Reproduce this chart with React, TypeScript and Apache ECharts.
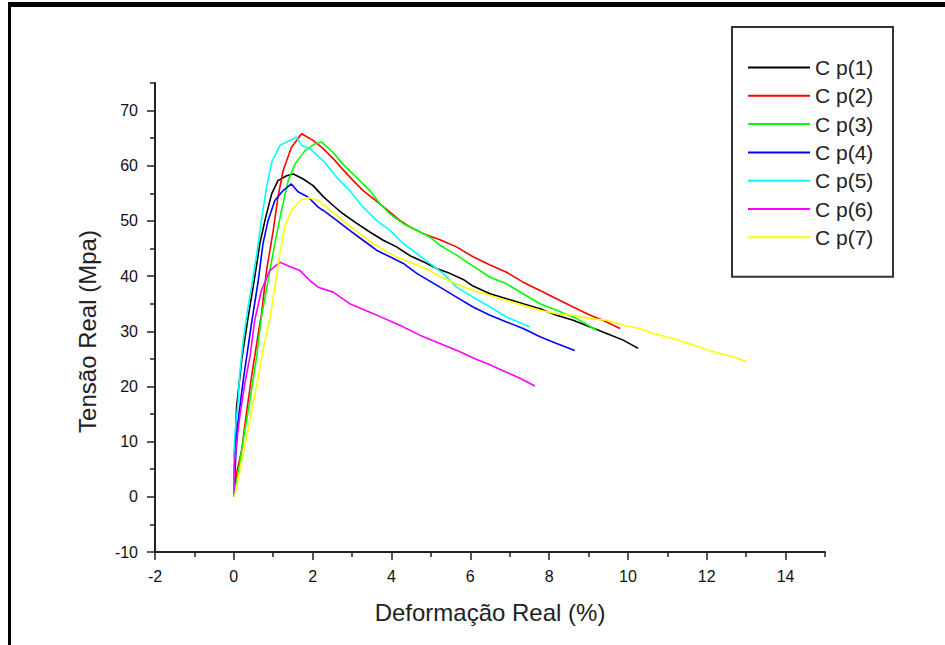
import React, { useEffect, useRef } from "react";
import * as echarts from "echarts";

const seriesNames = ["C p(1)", "C p(2)", "C p(3)", "C p(4)", "C p(5)", "C p(6)", "C p(7)"];
const seriesColors = ["#000000", "#ff0000", "#00ff00", "#0000ff", "#00ffff", "#ff00ff", "#ffff00"];

const xTickLabels = [-2, 0, 2, 4, 6, 8, 10, 12, 14];
const xMinorTicks = [-1, 1, 3, 5, 7, 9, 11, 13, 15];
const yTickLabels = [-10, 0, 10, 20, 30, 40, 50, 60, 70];
const yMinorTicks = [-5, 5, 15, 25, 35, 45, 55, 65, 75];

const cp1 = [[0,0],[0.03,8],[0.07,16.3],[0.2,24.8],[0.35,32.0],[0.53,39.8],[0.66,45.9],[0.79,50.1],[0.96,54.9],[1.12,57.3],[1.34,58.2],[1.51,58.5],[1.76,57.6],[2.01,56.4],[2.27,54.4],[2.52,52.8],[2.77,51.3],[3.11,49.6],[3.45,48.0],[3.79,46.5],[4.13,45.3],[4.47,43.7],[4.81,42.6],[5.14,41.4],[5.48,40.5],[5.82,39.4],[6.07,38.2],[6.5,36.8],[6.92,35.9],[7.34,35.0],[7.77,34.1],[8.19,32.9],[8.61,32.0],[9.04,30.8],[9.46,29.6],[9.88,28.4],[10.26,26.9]];
const cp2 = [[0,0],[0.07,4.3],[0.2,8.5],[0.32,15.1],[0.45,21.8],[0.62,29.6],[0.7,33],[0.83,41.0],[1.0,48.3],[1.12,54.3],[1.25,59.1],[1.46,63.3],[1.72,65.8],[2.01,64.6],[2.27,63.1],[2.52,61.3],[2.77,59.3],[3.03,57.3],[3.28,55.5],[3.62,53.6],[3.96,51.6],[4.21,50.1],[4.47,48.9],[4.81,47.7],[5.23,46.6],[5.65,45.3],[6.07,43.5],[6.5,42.0],[6.92,40.7],[7.34,38.9],[7.77,37.4],[8.19,35.9],[8.61,34.4],[9.04,32.9],[9.37,32.0],[9.8,30.5]];
const cp3 = [[0,0],[0.11,4.3],[0.24,10.3],[0.41,17.5],[0.58,25.4],[0.7,32.6],[0.87,39.2],[1.04,45.9],[1.21,51.9],[1.38,57.3],[1.55,60.3],[1.8,62.7],[2.06,64.0],[2.23,64.3],[2.52,62.4],[2.77,60.3],[3.11,57.9],[3.45,55.5],[3.71,53.1],[3.96,51.3],[4.3,49.5],[4.64,48.3],[4.97,47.1],[5.23,45.6],[5.65,43.8],[6.07,41.8],[6.5,39.8],[6.92,38.6],[7.34,36.8],[7.77,35.0],[8.19,33.8],[8.7,32.3],[9.2,30.2]];
const cp4 = [[0,0],[0.04,6],[0.09,12.7],[0.24,21.2],[0.45,31.5],[0.62,39.2],[0.74,45.9],[0.87,50.1],[1.04,53.7],[1.25,55.5],[1.46,56.7],[1.63,55.3],[1.89,54.3],[2.14,52.5],[2.27,51.9],[2.61,50.1],[2.94,48.3],[3.28,46.5],[3.62,44.7],[3.96,43.5],[4.3,42.3],[4.64,40.5],[5.23,38.0],[5.65,36.2],[6.07,34.4],[6.5,32.9],[6.92,31.7],[7.34,30.5],[7.77,29.0],[8.19,27.8],[8.65,26.5]];
const cp5 = [[0,0],[0.0,7.9],[0.03,11.5],[0.11,17.5],[0.15,22.4],[0.24,28.4],[0.36,34.4],[0.45,38.0],[0.58,43.9],[0.7,50.1],[0.83,56.1],[0.96,60.6],[1.17,63.7],[1.46,64.7],[1.59,65.2],[1.72,63.7],[1.93,63.1],[2.27,60.9],[2.61,57.9],[2.94,55.5],[3.28,52.5],[3.62,50.1],[3.96,48.3],[4.3,45.9],[4.64,44.1],[4.97,42.3],[5.31,40.5],[5.65,38.0],[6.07,36.2],[6.5,34.4],[6.92,32.6],[7.51,30.8]];
const cp6 = [[0,0],[0.01,5.5],[0.07,9.7],[0.15,14.5],[0.28,20.6],[0.41,25.4],[0.53,32.0],[0.7,37.4],[0.91,41.0],[1.17,42.5],[1.46,41.6],[1.68,41.0],[1.93,39.2],[2.14,38.0],[2.52,37.1],[2.94,35.0],[3.54,33.2],[4.21,31.1],[4.72,29.3],[5.23,27.8],[5.74,26.3],[6.16,24.9],[6.41,24.2],[7.26,21.5],[7.64,20.1]];
const cp7 = [[0,0],[0.03,0.5],[0.24,7.9],[0.41,13.9],[0.62,21.8],[0.79,28.4],[0.91,32],[1.04,38.0],[1.17,44.1],[1.29,48.9],[1.46,51.9],[1.68,53.7],[1.89,54.2],[2.14,53.7],[2.35,52.5],[2.61,51.0],[2.86,49.5],[3.2,47.7],[3.54,45.9],[3.88,44.4],[4.21,43.2],[4.55,42.3],[4.97,41.0],[5.23,39.9],[5.65,38.6],[6.07,37.4],[6.5,36.5],[6.92,35.6],[7.34,34.7],[7.77,33.8],[8.19,33.2],[8.61,32.9],[9.04,32.3],[9.46,32.0],[9.88,31.1],[10.3,30.5],[10.64,29.6],[11.15,28.7],[11.66,27.5],[12.17,26.3],[12.67,25.4],[13.01,24.5]];

const allSeries = [cp1, cp2, cp3, cp4, cp5, cp6, cp7];

const FONT = "'Liberation Sans', Arial, sans-serif";
const AXIS_COLOR = "#222";

function tickAxis(min: number, max: number, values: number[], length: number, pos: string) {
  return {
    type: "value",
    min,
    max,
    interval: 1,
    position: pos,
    axisLine: { show: false, onZero: false },
    axisTick: { show: true, inside: false, length, lineStyle: { color: AXIS_COLOR, width: 1.5 }, customValues: values },
    axisLabel: { show: false },
    splitLine: { show: false },
  };
}

export default function App() {
  const ref = useRef<HTMLDivElement>(null);
  useEffect(() => {
    if (!ref.current) return;
    const chart = echarts.init(ref.current, null, { renderer: "svg" });
    chart.setOption({
      animation: false,
      backgroundColor: "#fff",
      grid: { left: 155, right: 120, top: 83, bottom: 93, containLabel: false },
      legend: {
        orient: "vertical",
        left: 732,
        top: 27,
        padding: [30, 14, 29, 16],
        itemGap: 7.3,
        itemWidth: 62,
        itemHeight: 2,
        icon: "rect",
        borderColor: "#333",
        borderWidth: 2,
        backgroundColor: "#fff",
        textStyle: { fontFamily: FONT, fontSize: 21, color: "#222", lineHeight: 21, width: 64 },
        data: seriesNames,
      },
      xAxis: [
        {
          type: "value",
          min: -2,
          max: 15,
          interval: 1,
          name: "Deformação Real (%)",
          nameLocation: "middle",
          nameGap: 48,
          nameTextStyle: { fontFamily: FONT, fontSize: 24, color: "#222" },
          axisLine: { show: true, onZero: false, lineStyle: { color: AXIS_COLOR, width: 2 } },
          axisTick: { show: false },
          axisLabel: { fontFamily: FONT, fontSize: 16, color: "#111", margin: 16, customValues: xTickLabels },
          splitLine: { show: false },
        },
        tickAxis(-2, 15, xTickLabels, 8, "bottom"),
        tickAxis(-2, 15, xMinorTicks, 5, "bottom"),
      ],
      yAxis: [
        {
          type: "value",
          min: -10,
          max: 75,
          interval: 5,
          name: "Tensão Real (Mpa)",
          nameLocation: "middle",
          nameGap: 56,
          nameRotate: 90,
          nameTextStyle: { fontFamily: FONT, fontSize: 24, color: "#222", padding: [0, 28, 0, 0] },
          axisLine: { show: true, onZero: false, lineStyle: { color: AXIS_COLOR, width: 2 } },
          axisTick: { show: false },
          axisLabel: { fontFamily: FONT, fontSize: 16, color: "#111", margin: 17, customValues: yTickLabels },
          splitLine: { show: false },
        },
        tickAxis(-10, 75, yTickLabels, 8, "left"),
        tickAxis(-10, 75, yMinorTicks, 5, "left"),
      ],
      series: allSeries.map((d, i) => ({
        name: seriesNames[i],
        type: "line",
        data: d,
        showSymbol: false,
        symbol: "none",
        color: seriesColors[i],
        lineStyle: { color: seriesColors[i], width: 1.6 },
        xAxisIndex: 0,
        yAxisIndex: 0,
        z: 2 + i,
      })),
      graphic: [
        { type: "rect", shape: { x: 8, y: 2, width: 937, height: 5 }, style: { fill: "#000" }, silent: true },
        { type: "rect", shape: { x: 8, y: 2, width: 3, height: 643 }, style: { fill: "#000" }, silent: true },
      ],
    });
    return () => chart.dispose();
  }, []);
  return <div ref={ref} style={{ position: "fixed", left: 0, top: 0, width: 945, height: 645 }} />;
}
